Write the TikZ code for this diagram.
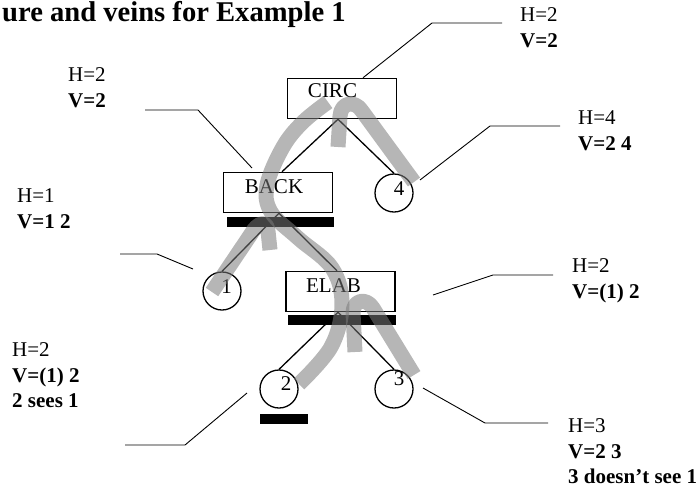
\documentclass[tikz,border=0pt]{standalone}
\usepackage{fontspec}
\setmainfont{Liberation Serif}
\begin{document}
\begin{tikzpicture}[x=1pt,y=-1pt,
  box/.style={draw=black,line width=1.5pt,rectangle,minimum width=109pt,minimum height=40pt,inner sep=0pt},
  leaf/.style={draw=black,line width=1.3pt,circle,minimum size=38pt,inner sep=0pt},
  nodetext/.style={anchor=base,inner sep=0pt,font=\fontsize{21}{25}\selectfont},
  labeltext/.style={anchor=north west,inner sep=0pt,align=left,font=\fontsize{21}{25.5}\selectfont},
  bar/.style={fill=black,draw=none,rectangle,minimum height=10pt,inner sep=0pt},
  edge/.style={draw=black,line width=1.3pt},
  leader/.style={draw=black,line width=0.9pt},
  vein/.style={draw=black!52,opacity=0.55,line width=15pt,line cap=butt,line join=round},
]
\useasboundingbox (0,0) rectangle (696,488);

% title
\node[anchor=base west,inner sep=0pt,font=\fontsize{28.6}{30}\selectfont\bfseries] (title) at (2,21) {ure and veins for Example 1};

% tree nodes
\node[box] (circ) at (342,98.5) {};
\node[box] (back) at (278,192.5) {};
\node[box] (elab) at (340.5,291.5) {};
\node[leaf] (c1) at (222,291) {};
\node[leaf] (c4) at (394,193) {};
\node[leaf] (c2) at (279,389) {};
\node[leaf] (c3) at (394,389) {};

\node[nodetext] (circt) at (332.5,97) {CIRC};
\node[nodetext] (backt) at (274,193) {BACK};
\node[nodetext] (elabt) at (333.5,292) {ELAB};
\node[nodetext] (c1t) at (226.5,293) {1};
\node[nodetext] (c4t) at (399,195) {4};
\node[nodetext] (c2t) at (286,390) {2};
\node[nodetext] (c3t) at (399,385) {3};

% tree edges
\draw[edge] ([xshift=-4pt]circ.south) -- ([xshift=4pt]back.north);
\draw[edge] ([xshift=-4pt]circ.south) -- (c4.north);
\draw[edge] ([xshift=1pt]back.south) -- (c1.north);
\draw[edge] ([xshift=1pt]back.south) -- ([xshift=-3.5pt]elab.north);
\draw[edge] ([xshift=-2.5pt]elab.south) -- (c2.north);
\draw[edge] ([xshift=-2.5pt]elab.south) -- (c3.north);

% black bars
\node[bar,minimum width=107pt] (backbar) at (280.5,222) {};
\node[bar,minimum width=108pt] (elabbar) at (342,320) {};
\node[bar,minimum width=48pt] (c2bar) at (284,419) {};

% veins
\draw[vein] plot[smooth,tension=0.6] coordinates {(299,384) (331,347) (342,305) (332,268) (298,238) (271,212) (267,185) (283,147) (303,122) (328,102)};
\draw[vein] (212,292) -- (251,234) .. controls (257,223) and (267,219) .. (268,231) -- (270,250);
\draw[vein] (414,182) -- (362,111) .. controls (355,100) and (341,102) .. (340,116) -- (338,147);
\draw[vein] (414,375) -- (373,308) .. controls (366,297) and (353,300) .. (353,313) -- (355,352);

% leader lines
\coordinate (a1) at (432,23); \coordinate (a2) at (502,23);
\draw[leader] ([xshift=21pt]circ.north) -- (a1) -- (a2);
\coordinate (b1) at (145,110); \coordinate (b2) at (198,110); \coordinate (b3) at (252,168);
\draw[leader] (b1) -- (b2) -- (b3);
\coordinate (d0) at (420,180); \coordinate (d1) at (490,126); \coordinate (d2) at (560,126);
\draw[leader] (d0) -- (d1) -- (d2);
\coordinate (e1) at (120,254); \coordinate (e2) at (157,254); \coordinate (e3) at (193,269);
\draw[leader] (e1) -- (e2) -- (e3);
\coordinate (f0) at (433,295); \coordinate (f1) at (493,275); \coordinate (f2) at (553,275);
\draw[leader] (f0) -- (f1) -- (f2);
\coordinate (g1) at (125,445); \coordinate (g2) at (185,445); \coordinate (g3) at (247,393);
\draw[leader] (g1) -- (g2) -- (g3);
\coordinate (h0) at (423,388); \coordinate (h1) at (485,423); \coordinate (h2) at (548,423);
\draw[leader] (h0) -- (h1) -- (h2);

% labels
\node[labeltext] (lcirc) at (520,7.5) {H=2\\\textbf{V=2}};
\node[labeltext] (lback) at (68,67.5) {H=2\\\textbf{V=2}};
\node[labeltext] (l4) at (578,110.5) {H=4\\\textbf{V=2 4}};
\node[labeltext] (l1) at (17,188.5) {H=1\\\textbf{V=1 2}};
\node[labeltext] (lelab) at (572,258.5) {H=2\\\textbf{V=(1) 2}};
\node[labeltext] (l2) at (12,342.5) {H=2\\\textbf{V=(1) 2}\\\textbf{2 sees 1}};
\node[labeltext] (l3) at (568,418.5) {H=3\\\textbf{V=2 3}\\\textbf{3 doesn’t see 1}};
\end{tikzpicture}
\end{document}
